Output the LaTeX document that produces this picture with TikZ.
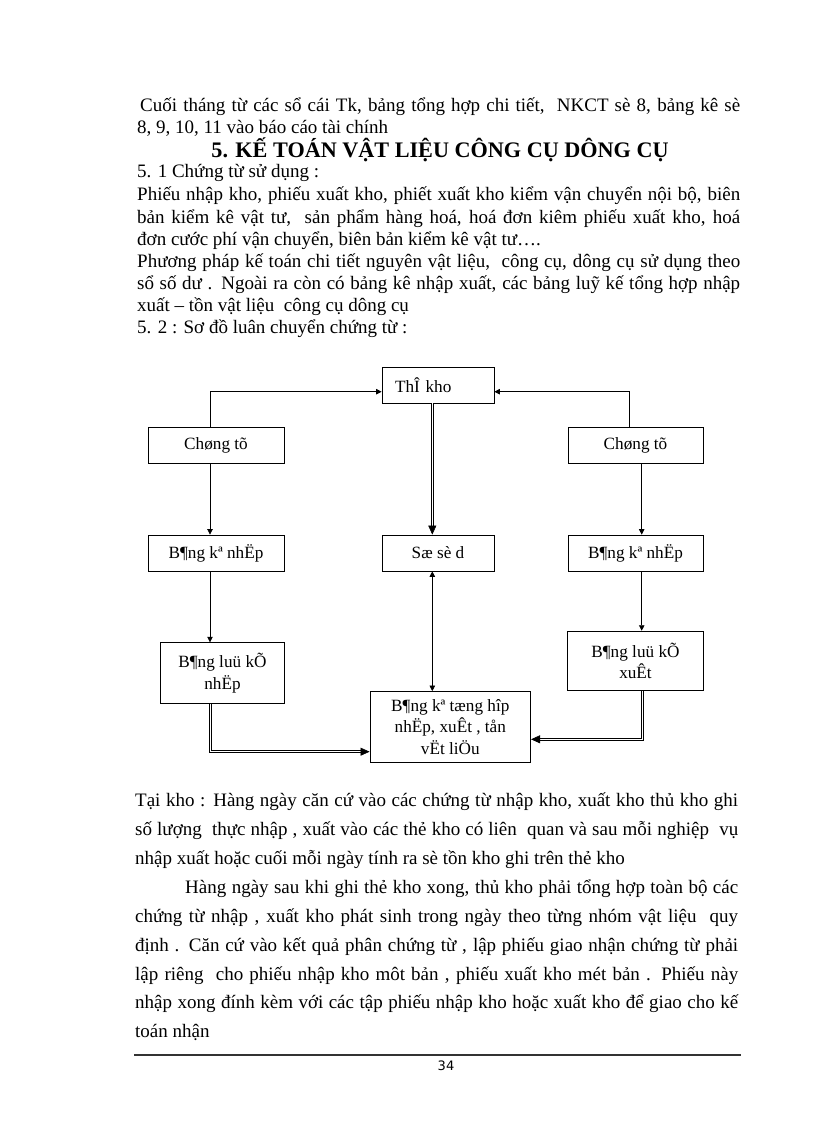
\documentclass[tikz,border=0pt]{standalone}
\usepackage{fontspec}
\setmainfont{Liberation Serif}
\newfontfamily\pgnumfont{DejaVu Sans}
\usetikzlibrary{arrows.meta}
\newcommand\jl[2][603pt]{\makebox[#1][s]{#2}}
\begin{document}
\begin{tikzpicture}[x=1pt,y=-1pt,
  txt/.style={anchor=base west, inner sep=0pt, font=\fontsize{19}{22}\selectfont},
  box/.style={draw, line width=0.8pt, inner sep=0pt, align=center, font=\fontsize{17.2}{21.5}\selectfont},
  arr/.style={line width=0.7pt, -{Triangle[length=5.5pt,width=5.5pt]}},
  biarr/.style={line width=0.7pt, {Triangle[length=5.5pt,width=5.5pt]}-{Triangle[length=5.5pt,width=5.5pt]}},
  dbl/.style={double, line width=0.6pt, double distance=1.4pt, -{Triangle[length=9pt,width=8pt]}},
]
\useasboundingbox (0,0) rectangle (816,1123);
\fill[white] (0,0) rectangle (816,1123);

% ---------- top text ----------
\node[txt] (t1) at (140,112) {\jl[600pt]{Cuối tháng từ các sổ cái Tk, bảng tổng hợp chi tiết,\ \ NKCT sè 8, bảng kê sè}};
\node[txt] (t2) at (137,134) {8, 9, 10, 11 vào báo cáo tài chính};
\node[anchor=base, inner sep=0pt, font=\fontsize{22.2}{26}\selectfont\bfseries] (title) at (440,158) {5. KẾ TOÁN VẬT LIỆU CÔNG CỤ DÔNG CỤ};
\node[txt] (t4) at (137,178) {5. 1 Chứng từ sử dụng :};
\node[txt] (t5) at (137,201) {\jl{Phiếu nhập kho, phiếu xuất kho, phiết xuất kho kiểm vận chuyển nội bộ, biên}};
\node[txt] (t6) at (137,223) {\jl{bản kiểm kê vật tư,\ \ sản phẩm hàng hoá, hoá đơn kiêm phiếu xuất kho, hoá}};
\node[txt] (t7) at (137,245) {đơn cước phí vận chuyển, biên bản kiểm kê vật tư….};
\node[txt] (t8) at (137,267) {\jl{Phương pháp kế toán chi tiết nguyên vật liệu,\ \ công cụ, dông cụ sử dụng theo}};
\node[txt] (t9) at (137,289) {\jl{sổ số dư . Ngoài ra còn có bảng kê nhập xuất, các bảng luỹ kế tổng hợp nhập}};
\node[txt] (t10) at (137,311) {xuất – tồn vật liệu\ \ công cụ dông cụ};
\node[txt] (t11) at (137,333) {5. 2 : Sơ đồ luân chuyển chứng từ :};

% ---------- diagram ----------
\node[box, text width=86pt, inner xsep=13pt, align=left, minimum height=36pt] (tk) at (438,385) {ThÎ kho};
\node[box, minimum width=136pt, minimum height=36pt] (ctl) at (216,445) {Chøng tõ};
\node[box, minimum width=135pt, minimum height=36pt] (ctr) at (635.5,445) {Chøng tõ};
\node[box, minimum width=136pt, minimum height=36pt] (bkl) at (216,553) {B¶ng kª nhËp};
\node[box, minimum width=112pt, minimum height=36pt] (ssd) at (438,553) {Sæ sè d};
\node[box, minimum width=135pt, minimum height=36pt] (bkr) at (635.5,553) {B¶ng kª nhËp};
\node[box, minimum width=123.6pt, minimum height=60.6pt] (lkn) at (222.5,673) {B¶ng luü kÕ\\nhËp};
\node[box, minimum width=135.6pt, minimum height=59.7pt] (lkx) at (635.5,661) {B¶ng luü kÕ\\xuÊt};
\node[box, minimum width=160.7pt, minimum height=71pt] (th) at (450.3,727) {B¶ng kª tæng hîp\\nhËp, xuÊt , tån\\vËt liÖu};

\draw[arr] ([xshift=-6pt]ctl.north) |- ([yshift=-6.7pt]tk.west);
\draw[arr] ([xshift=-6.2pt]ctr.north) |- ([yshift=-6.7pt]tk.east);
\draw[arr] ([xshift=-6pt]ctl.south) -- ([xshift=-6pt]bkl.north);
\draw[arr] ([xshift=6.2pt]ctr.south) -- ([xshift=6.2pt]bkr.north);
\draw[arr] ([xshift=-6pt]bkl.south) -- ([xshift=-12.5pt]lkn.north);
\draw[arr] ([xshift=6.2pt]bkr.south) -- ([xshift=6.2pt]lkx.north);
\draw[dbl] ([xshift=-5.7pt]tk.south) -- ([xshift=-5.7pt]ssd.north);
\draw[biarr] ([xshift=-5.7pt]ssd.south) -- ([xshift=-18pt]th.north);
\draw[dbl] ([xshift=-11.8pt]lkn.south) |- ([yshift=-24.7pt]th.west);
\draw[dbl] ([xshift=6.8pt]lkx.south) |- ([yshift=-12.3pt]th.east);

% ---------- bottom text ----------
\node[txt] (b1) at (135,806) {\jl{Tại kho : Hàng ngày căn cứ vào các chứng từ nhập kho, xuất kho thủ kho ghi}};
\node[txt] (b2) at (135,835) {\jl{số lượng\ \ thực nhập , xuất vào các thẻ kho có liên\ \ quan và sau mỗi nghiệp\ \ vụ}};
\node[txt] (b3) at (135,864) {nhập xuất hoặc cuối mỗi ngày tính ra sè tồn kho ghi trên thẻ kho};
\node[txt] (b4) at (185,893) {\jl[553pt]{Hàng ngày sau khi ghi thẻ kho xong, thủ kho phải tổng hợp toàn bộ các}};
\node[txt] (b5) at (135,922) {\jl{chứng từ nhập , xuất kho phát sinh trong ngày theo từng nhóm vật liệu\ \ quy}};
\node[txt] (b6) at (135,951) {\jl{định . Căn cứ vào kết quả phân chứng từ , lập phiếu giao nhận chứng từ phải}};
\node[txt] (b7) at (135,980) {\jl{lập riêng\ \ cho phiếu nhập kho môt bản , phiếu xuất kho mét bản . Phiếu này}};
\node[txt] (b8) at (135,1008) {\jl{nhập xong đính kèm với các tập phiếu nhập kho hoặc xuất kho để giao cho kế}};
\node[txt] (b9) at (135,1037) {toán nhận};

% ---------- footer ----------
\coordinate (fl) at (134,1055);
\coordinate (fr) at (741,1055);
\draw[line width=1.2pt, color=black!80] (fl) -- (fr);
\node[inner sep=0pt, anchor=base, font=\pgnumfont\fontsize{13}{15}\selectfont] (pg) at (446,1070) {34};
\end{tikzpicture}
\end{document}
